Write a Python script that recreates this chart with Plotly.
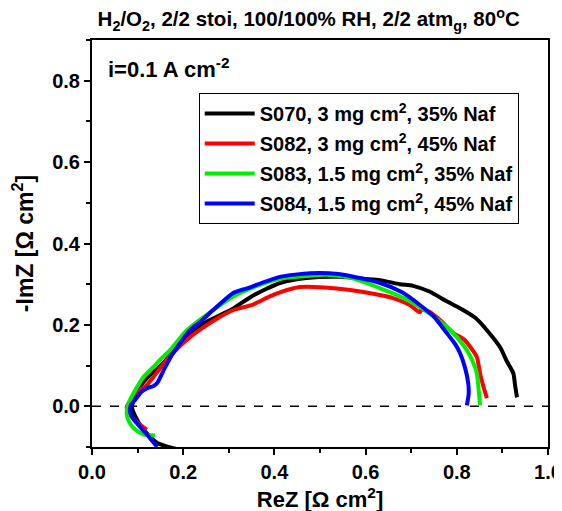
import plotly.graph_objects as go

# Data
s070_x = [0.20, 0.186, 0.165, 0.143, 0.125, 0.108, 0.095, 0.088, 0.09, 0.099, 0.125, 0.156, 0.185, 0.215, 0.255, 0.303, 0.35, 0.412, 0.47, 0.544, 0.60, 0.632, 0.675, 0.704, 0.74, 0.778, 0.807, 0.84, 0.866, 0.895, 0.91, 0.924, 0.928, 0.932]
s070_y = [-0.108, -0.105, -0.099, -0.09, -0.072, -0.05, -0.025, -0.005, 0.012, 0.039, 0.075, 0.106, 0.145, 0.18, 0.21, 0.236, 0.27, 0.303, 0.315, 0.318, 0.313, 0.31, 0.30, 0.296, 0.282, 0.258, 0.241, 0.218, 0.187, 0.145, 0.11, 0.081, 0.05, 0.022]

s082_x = [0.12, 0.105, 0.094, 0.082, 0.076, 0.085, 0.105, 0.12, 0.14, 0.164, 0.19, 0.215, 0.25, 0.281, 0.309, 0.353, 0.39, 0.412, 0.456, 0.51, 0.566, 0.62, 0.66, 0.695, 0.719, 0.722, 0.74, 0.765, 0.792, 0.815, 0.83, 0.844, 0.848, 0.851, 0.858, 0.866]
s082_y = [-0.058, -0.045, -0.034, -0.018, -0.002, 0.015, 0.039, 0.052, 0.08, 0.113, 0.145, 0.17, 0.198, 0.22, 0.236, 0.25, 0.27, 0.28, 0.293, 0.292, 0.286, 0.276, 0.266, 0.25, 0.231, 0.238, 0.232, 0.21, 0.18, 0.165, 0.145, 0.121, 0.1, 0.081, 0.05, 0.02]

s083_x = [0.138, 0.12, 0.105, 0.09, 0.08, 0.076, 0.078, 0.083, 0.095, 0.112, 0.134, 0.15, 0.171, 0.208, 0.265, 0.31, 0.36, 0.42, 0.47, 0.515, 0.57, 0.632, 0.68, 0.719, 0.75, 0.778, 0.80, 0.822, 0.835, 0.844, 0.848, 0.851]
s083_y = [-0.071, -0.071, -0.065, -0.052, -0.035, -0.017, 0.0, 0.015, 0.04, 0.071, 0.096, 0.115, 0.138, 0.187, 0.236, 0.27, 0.295, 0.315, 0.32, 0.323, 0.315, 0.29, 0.268, 0.244, 0.22, 0.195, 0.17, 0.138, 0.11, 0.081, 0.04, 0.003]

s084_x = [0.143, 0.125, 0.105, 0.09, 0.083, 0.086, 0.094, 0.108, 0.12, 0.135, 0.143, 0.16, 0.178, 0.215, 0.237, 0.265, 0.309, 0.34, 0.412, 0.478, 0.54, 0.632, 0.68, 0.719, 0.75, 0.778, 0.795, 0.807, 0.818, 0.825, 0.826, 0.822]
s084_y = [-0.10, -0.075, -0.05, -0.03, -0.01, 0.005, 0.015, 0.035, 0.044, 0.05, 0.057, 0.095, 0.131, 0.187, 0.207, 0.236, 0.278, 0.29, 0.318, 0.327, 0.325, 0.303, 0.28, 0.249, 0.22, 0.18, 0.155, 0.131, 0.095, 0.057, 0.03, 0.002]

series = [
    ("S070, 3 mg cm<sup>2</sup>, 35% Naf", s070_x, s070_y, "#000000"),
    ("S082, 3 mg cm<sup>2</sup>, 45% Naf", s082_x, s082_y, "#ff0000"),
    ("S083, 1.5 mg cm<sup>2</sup>, 35% Naf", s083_x, s083_y, "#00ee00"),
    ("S084, 1.5 mg cm<sup>2</sup>, 45% Naf", s084_x, s084_y, "#0000ff"),
]

FONT = "Liberation Sans, Arial, sans-serif"

fig = go.Figure()
for i, (name, xs, ys, col) in enumerate(series):
    fig.add_trace(go.Scatter(x=xs, y=ys, mode="lines", name=name,
                             legendgroup=str(i),
                             line=dict(color=col, width=4, shape="spline", smoothing=0.6)))

fig.add_shape(type="line", xref="x", yref="y", x0=0, x1=1, y0=0, y1=0,
              line=dict(color="black", width=1.5, dash="dash"), layer="below")

axis_common = dict(
    showline=True, linewidth=2, linecolor="black", mirror=True,
    ticks="outside", ticklen=6, tickwidth=1.5, tickcolor="black",
    showgrid=False, zeroline=False, automargin=False,
    tickfont=dict(family=FONT, size=20, color="black", weight="bold"),
    minor=dict(ticks="outside", ticklen=4, tickwidth=1.5, tickcolor="black", dtick=0.1, showgrid=False),
    dtick=0.2, tickformat=".1f",
)

fig.update_layout(
    width=562, height=511,
    margin=dict(l=84, r=22, t=32, b=72),
    paper_bgcolor="white", plot_bgcolor="white",
    font=dict(family=FONT, color="black", weight="bold"),
    title=dict(text="H<sub>2</sub>/O<sub>2</sub>, 2/2 stoi, 100/100% RH, 2/2 atm<sub>g</sub>, 80<sup>o</sup>C",
               x=0.535, xanchor="center", y=0.978, yanchor="middle",
               font=dict(family=FONT, size=20.5, color="black", weight="bold")),
    xaxis=dict(range=[0, 1.0], tick0=0,
               title=dict(text="ReZ [Ω cm<sup>2</sup>]", standoff=10,
                          font=dict(family=FONT, size=22, color="black", weight="bold")),
               **axis_common),
    yaxis=dict(range=[-0.1, 0.9], tick0=0,
               title=dict(text="-ImZ [Ω cm<sup>2</sup>]", standoff=14,
                          font=dict(family=FONT, size=23, color="black", weight="bold")),
               **axis_common),
    legend=dict(x=0.234, y=0.87, xanchor="left", yanchor="top",
                bordercolor="black", borderwidth=1, bgcolor="white",
                font=dict(family=FONT, size=20, color="black", weight="bold"),
                tracegroupgap=1, itemwidth=50),
    showlegend=True,
)

fig.add_annotation(text="i=0.1 A cm<sup>-2</sup>", xref="paper", yref="paper",
                   x=0.03, y=0.93, xanchor="left", yanchor="middle", showarrow=False,
                   font=dict(family=FONT, size=22, color="black", weight="bold"))

fig.write_html("out.html")
